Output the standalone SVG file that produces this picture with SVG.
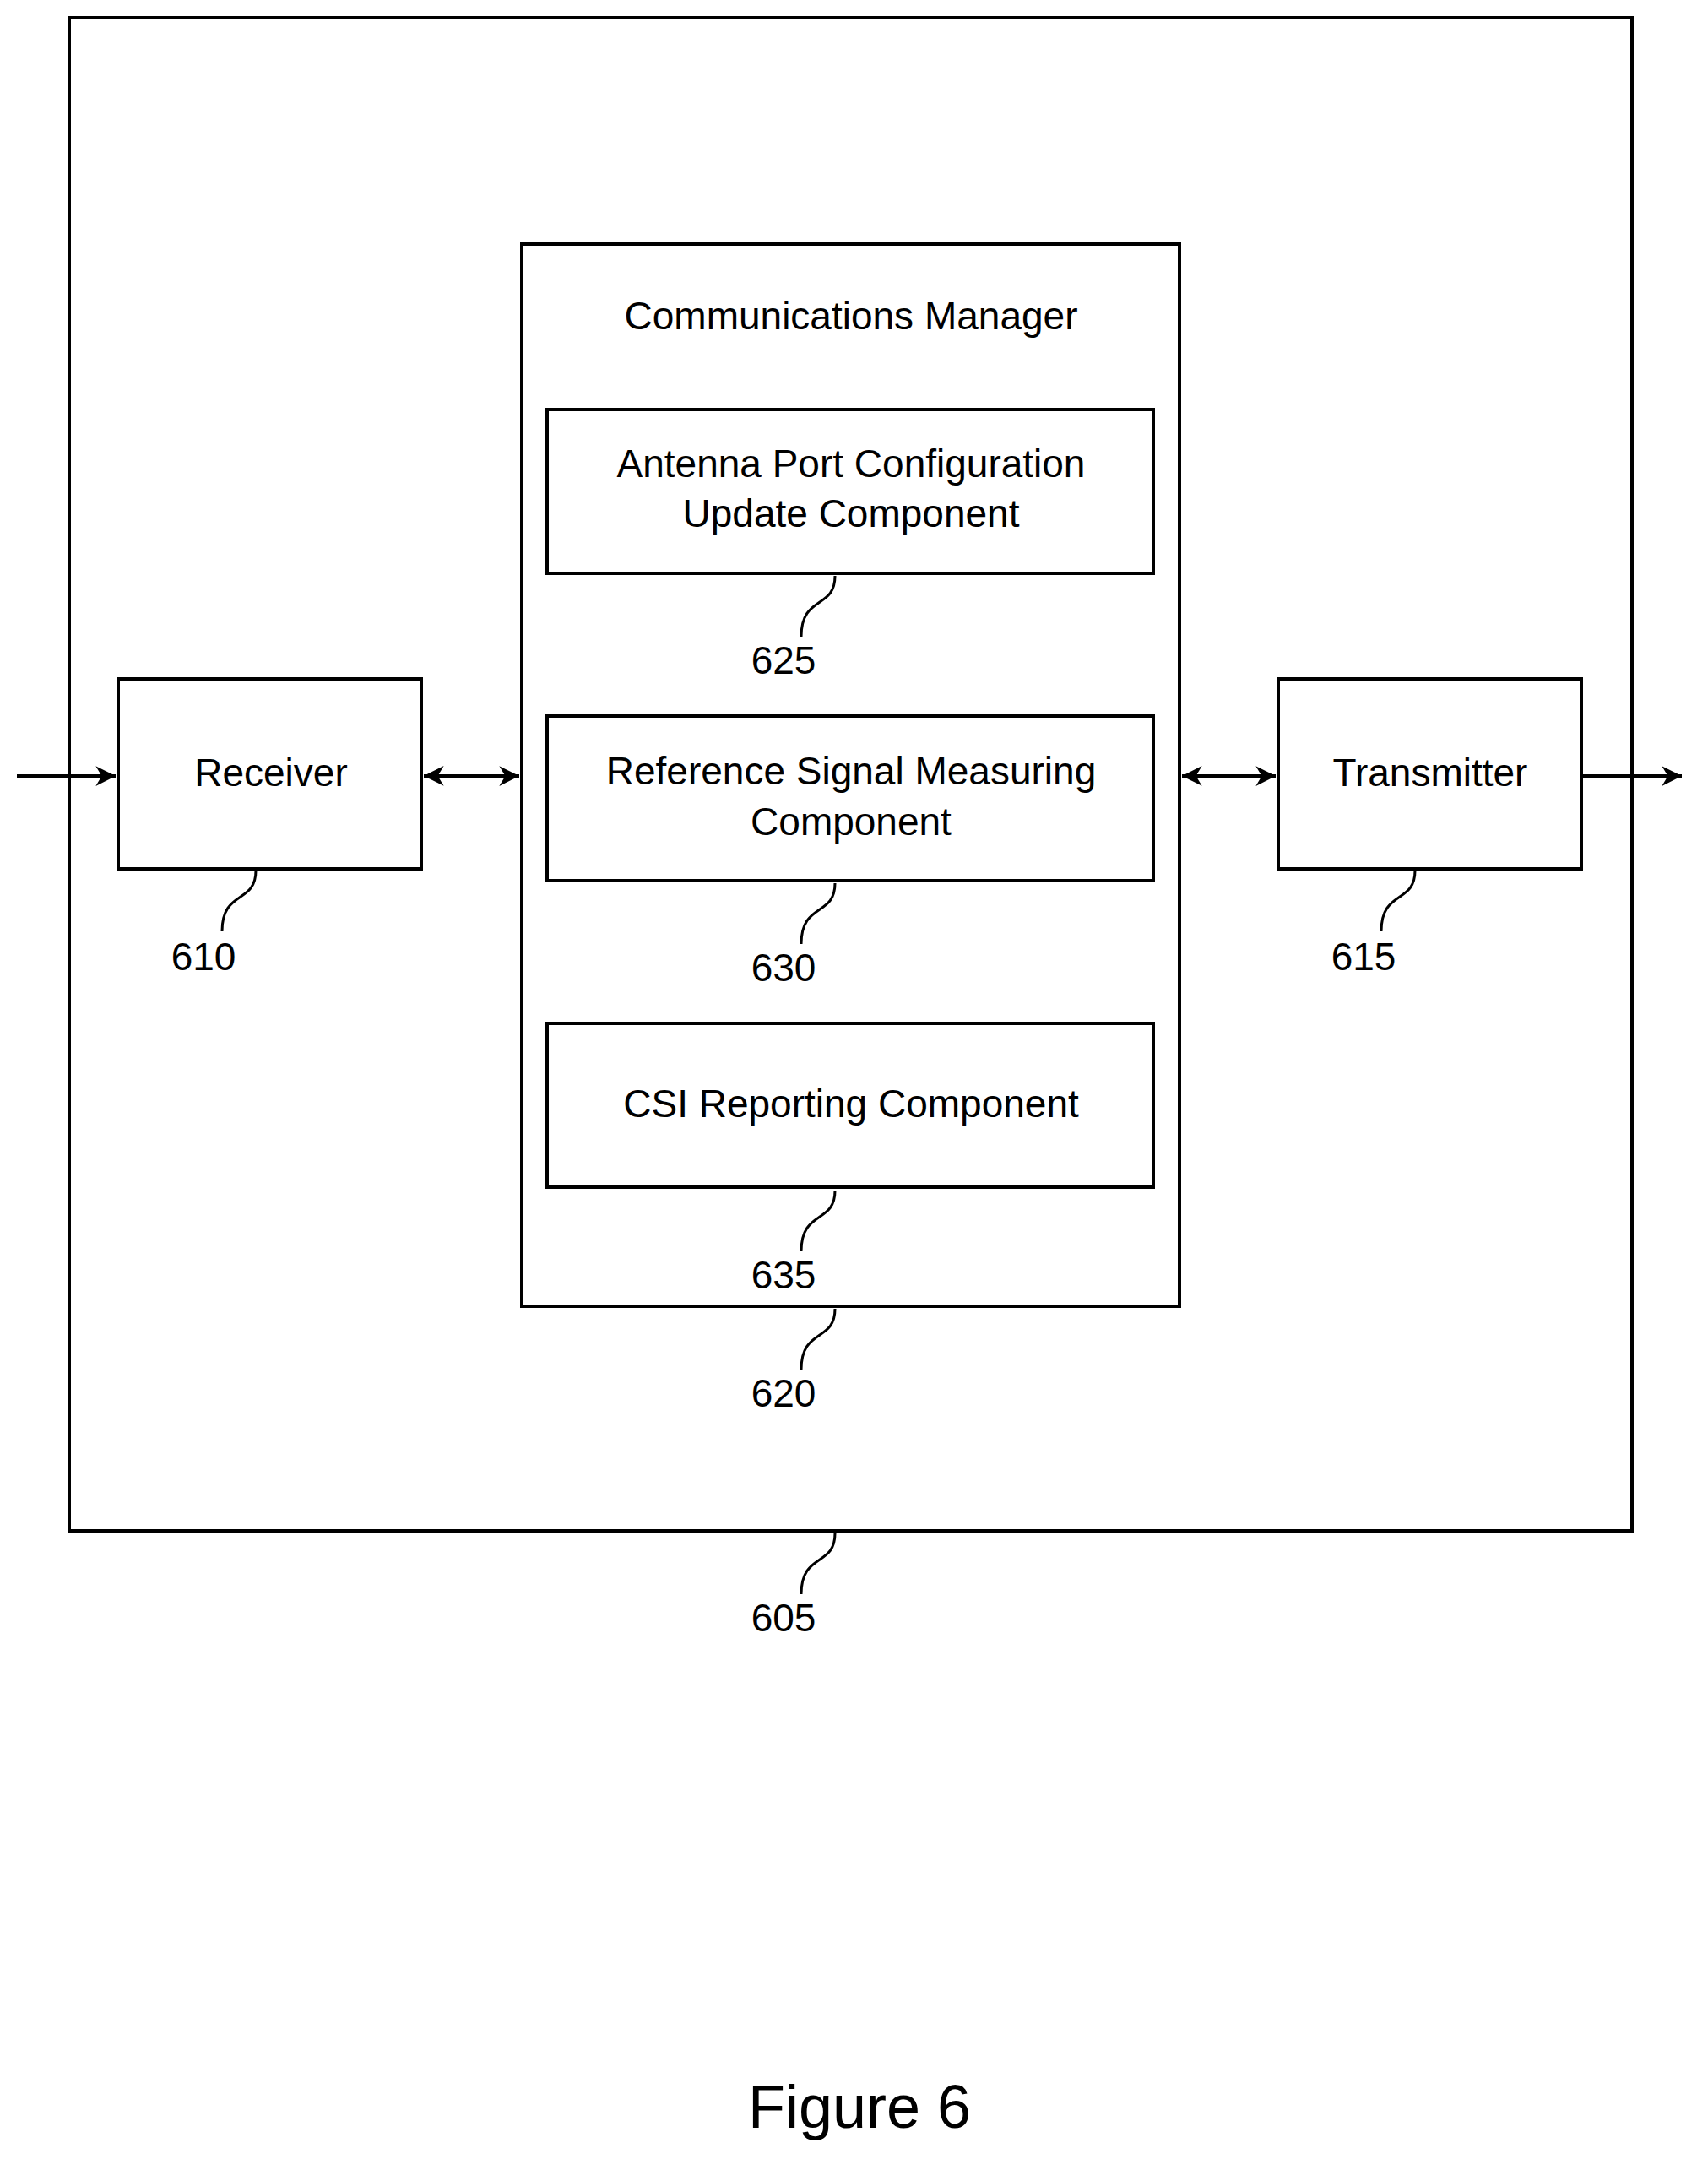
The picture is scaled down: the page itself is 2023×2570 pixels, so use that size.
<svg xmlns="http://www.w3.org/2000/svg" width="2023" height="2570" viewBox="0 0 2023 2570">
<style>
rect{fill:none;stroke:#000;stroke-width:4}
text{font-family:"Liberation Sans",Arial,sans-serif;font-size:46px;text-anchor:middle;fill:#000}
.l{fill:none;stroke:#000;stroke-width:3}
.c{fill:none;stroke:#000;stroke-width:4}
</style>
<defs><marker id="a" viewBox="0 0 10 10" refX="10" refY="5" markerWidth="7" markerHeight="7" orient="auto-start-reverse" markerUnits="userSpaceOnUse" style="overflow:visible"><path d="M0,0L10,5L0,10L3,5z" transform="scale(3.4) translate(-7,-3.5)"/></marker></defs>
<rect width="2023" height="2570" style="fill:#fff;stroke:none"/>
<g id="n605"><rect x="82" y="21" width="1851" height="1792"/><path class="l" d="M989,1816c0,40 -40,22 -40,72"/><text x="928" y="1932">605</text></g>
<g id="n620"><rect x="618" y="289" width="779" height="1258"/><text x="1008" y="390">Communications Manager</text><path class="l" d="M989,1550c0,40 -40,22 -40,72"/><text x="928" y="1666">620</text></g>
<g id="n625"><rect x="648" y="485" width="718" height="194"/><text x="1008" y="565">Antenna Port Configuration</text><text x="1008" y="624">Update Component</text><path class="l" d="M989,682c0,40 -40,22 -40,72"/><text x="928" y="798">625</text></g>
<g id="n630"><rect x="648" y="848" width="718" height="195"/><text x="1008" y="929">Reference Signal Measuring</text><text x="1008" y="989">Component</text><path class="l" d="M989,1046c0,40 -40,22 -40,72"/><text x="928" y="1162">630</text></g>
<g id="n635"><rect x="648" y="1212" width="718" height="194"/><text x="1008" y="1323">CSI Reporting Component</text><path class="l" d="M989,1410c0,40 -40,22 -40,72"/><text x="928" y="1526">635</text></g>
<g id="n610"><rect x="140" y="804" width="359" height="225"/><text x="321" y="931">Receiver</text><path class="l" d="M303,1031c0,40 -40,22 -40,72"/><text x="241" y="1149">610</text></g>
<g id="n615"><rect x="1514" y="804" width="359" height="225"/><text x="1694" y="931">Transmitter</text><path class="l" d="M1676,1031c0,40 -40,22 -40,72"/><text x="1615" y="1149">615</text></g>
<g id="connectors">
<path class="c" d="M20,919H137" marker-end="url(#a)"/>
<path class="c" d="M502,919H615" marker-start="url(#a)" marker-end="url(#a)"/>
<path class="c" d="M1400,919H1511" marker-start="url(#a)" marker-end="url(#a)"/>
<path class="c" d="M1873,919H1992" marker-end="url(#a)"/>
</g>
<text x="1018" y="2520" style="font-size:72px">Figure 6</text>
</svg>
